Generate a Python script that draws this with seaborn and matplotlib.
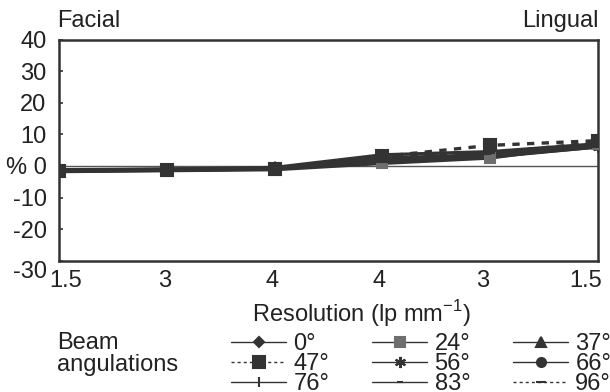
import matplotlib
matplotlib.use("Agg")
import matplotlib.pyplot as plt
import matplotlib.transforms as mtransforms
import seaborn as sns
import pandas as pd

sns.set_style("white")
plt.rcParams['font.family'] = ['Liberation Sans', 'DejaVu Sans']
plt.rcParams['mathtext.fontset'] = 'custom'
plt.rcParams['mathtext.rm'] = 'Liberation Sans'

# ---- data ----
x_labels = ["1.5", "3", "4", "4", "3", "1.5"]
positions = [0, 1, 2, 3, 4, 5]
angles = ["0°", "24°", "37°", "47°", "56°", "66°", "76°", "83°", "96°"]
v_0 = [-1.5, -1.2, -0.8, 2.5, 3.5, 6.5]
v_24 = [-1.8, -1.5, -1.2, 0.8, 2.5, 7.0]
v_37 = [-1.2, -1.0, -0.5, 3.5, 4.5, 7.0]
v_47 = [-1.5, -1.2, -1.0, 3.0, 6.5, 8.0]
v_56 = [-1.6, -1.3, -0.9, 2.0, 3.0, 6.0]
v_66 = [-1.4, -1.1, -0.7, 1.5, 3.8, 6.5]
v_76 = [-1.3, -1.1, -0.8, 2.2, 3.2, 6.2]
v_83 = [-1.7, -1.4, -1.0, 1.8, 2.8, 6.0]
v_96 = [-1.5, -1.3, -0.9, 2.5, 4.0, 7.5]
series = [v_0, v_24, v_37, v_47, v_56, v_66, v_76, v_83, v_96]
y_ticks = [-30, -20, -10, 0, 10, 20, 30, 40]
y_ticklabels = ["-30", "-20", "-10", "% 0", "10", "20", "30", "40"]

# ---- styles ----
dark = "#333333"
styles = {
    "0°":  dict(marker="D", ms=5.5, ls="-", mfc=dark),
    "24°": dict(marker="s", ms=7, ls="-", mfc="#6e6e6e"),
    "37°": dict(marker="^", ms=7.5, ls="-", mfc=dark),
    "47°": dict(marker="s", ms=8.5, ls=(0, (2.2, 2.2)), mfc=dark),
    "56°": dict(marker=(6, 2, 0), ms=8, ls="-", mfc=dark),
    "66°": dict(marker="o", ms=6.5, ls="-", mfc=dark),
    "76°": dict(marker="|", ms=7, ls="-", mfc=dark),
    "83°": dict(marker="_", ms=5, ls="-", mfc=dark),
    "96°": dict(marker="_", ms=7, ls=(0, (2.2, 2.2)), mfc=dark),
}

fig = plt.figure(figsize=(6.1, 3.92), dpi=100)
W, H = 610, 392
ax = fig.add_axes([59 / W, 1 - 260.7 / H, (598 - 59) / W, (260.7 - 39.5) / H])

ax.axhline(0, color="#555555", lw=1.0, zorder=1)

draw_order = ["83°", "76°", "56°", "66°", "0°", "37°", "24°", "96°", "47°"]
for name in draw_order:
    vals = series[angles.index(name)]
    st = styles[name]
    df = pd.DataFrame({"x": positions, "y": vals})
    sns.lineplot(data=df, x="x", y="y", ax=ax, color=dark, lw=2.4,
                 marker=st["marker"], markersize=st["ms"],
                 markerfacecolor=st["mfc"], markeredgecolor=st["mfc"],
                 markeredgewidth=1.5, linestyle=st["ls"], label=name,
                 legend=True, zorder=3)

FS = 17
ax.set_xlim(0, 5)
ax.set_ylim(-30, 40)
ax.set_xticks(positions)
ax.set_xticklabels(x_labels)
ax.set_yticks(y_ticks)
ax.set_yticklabels(y_ticklabels)
ax.set_xlabel("")
ax.set_ylabel("")
ax.tick_params(axis="y", direction="in", length=3, width=1.2, pad=9,
               labelsize=FS, colors=dark, left=True)
ax.tick_params(axis="x", length=0, pad=7, labelsize=FS, colors=dark)
for lab in ax.get_yticklabels():
    lab.set_color("#222222")
for lab in ax.get_xticklabels():
    lab.set_color("#222222")
for sp in ax.spines.values():
    sp.set_visible(True)
    sp.set_color(dark)
    sp.set_linewidth(1.8)

# shift tick labels like the reference
xl = ax.get_xticklabels()
offs = [7, -2, -3, -3, -8, -12]
for lab, o in zip(xl, offs):
    lab.set_transform(lab.get_transform() + mtransforms.ScaledTranslation(o / 100, 0, fig.dpi_scale_trans))
yl = ax.get_yticklabels()
yl[0].set_transform(yl[0].get_transform() + mtransforms.ScaledTranslation(0, -9 / 100, fig.dpi_scale_trans))

fig.text(57 / W, 1 - 21 / H, "Facial", fontsize=FS, color="#222222", ha="left", va="center")
fig.text(599 / W, 1 - 21 / H, "Lingual", fontsize=FS, color="#222222", ha="right", va="center")
fig.text(361 / W, 1 - 314 / H, r"Resolution (lp mm$^{\mathregular{-1}}$)", fontsize=FS,
         color="#222222", ha="center", va="center")
fig.text(57 / W, 1 - 354 / H, "Beam\nangulations", fontsize=FS, color="#222222",
         ha="left", va="center", linespacing=0.95)

handles, labels = ax.get_legend_handles_labels()
hmap = dict(zip(labels, handles))
order = ["0°", "47°", "76°", "24°", "56°", "83°", "37°", "66°", "96°"]
if ax.get_legend():
    ax.get_legend().remove()
leg = fig.legend([hmap[k] for k in order], order, ncol=3, frameon=False,
                 loc="upper left", bbox_to_anchor=(231 / W, 1 - 333 / H),
                 fontsize=FS, handlelength=2.35, handletextpad=0.3,
                 columnspacing=1.8, labelspacing=-0.08, borderpad=0,
                 borderaxespad=0, labelcolor="#222222")
for h in leg.legend_handles:
    h.set_linewidth(1.0)

fig.savefig("out.png", dpi=100)
